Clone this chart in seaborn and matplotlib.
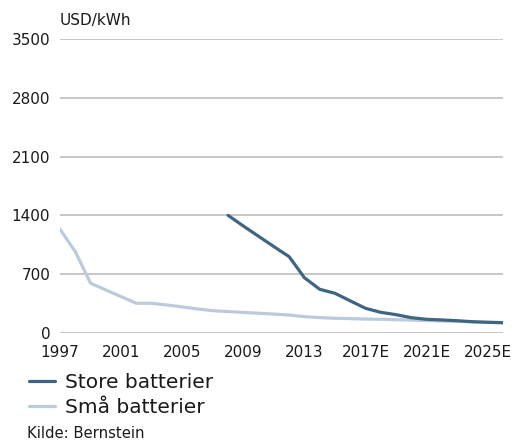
import numpy as np
import pandas as pd
import matplotlib
matplotlib.use("Agg")
import matplotlib.pyplot as plt
import seaborn as sns
from matplotlib.lines import Line2D

# Battery pack prices, USD/kWh
years = list(range(1997, 2027))
store_years = list(range(2008, 2027))
store_values = [1400, 1273, 1150, 1027, 907, 656, 518, 470, 380, 291,
                243, 215, 179, 160, 152, 143, 131, 124, 119]
small_values = [1234, 967, 590, 510, 430, 351, 351, 330, 308, 283,
                263, 252, 242, 232, 222, 211, 191, 180, 172, 168,
                163, 160, 155, 150, 145, 140, 135, 130, 125, 120]

tick_years = [1997, 2001, 2005, 2009, 2013, 2017, 2021, 2025]
tick_labels = ["1997", "2001", "2005", "2009", "2013", "2017E", "2021E", "2025E"]
y_ticks = [0, 700, 1400, 2100, 2800, 3500]

series_names = ["Store batterier", "Små batterier"]
colors = {"Store batterier": "#3e6682", "Små batterier": "#bccbdc"}

df = pd.concat([
    pd.DataFrame({"År": store_years, "Pris": store_values, "Serie": series_names[0]}),
    pd.DataFrame({"År": years, "Pris": small_values, "Serie": series_names[1]}),
], ignore_index=True)

sns.set_theme(style="white")
plt.rcParams["font.family"] = ["DejaVu Sans"]

fig = plt.figure(figsize=(5.17, 4.41), dpi=100)
ax = fig.add_axes([60 / 517, 1 - 332.7 / 441, 443 / 517, 293.4 / 441])

lw = 2.3
# light series underneath, dark series on top
sns.lineplot(data=df[df["Serie"] == series_names[1]], x="År", y="Pris",
             color=colors[series_names[1]], linewidth=lw, ax=ax, legend=False, zorder=3)
sns.lineplot(data=df[df["Serie"] == series_names[0]], x="År", y="Pris",
             color=colors[series_names[0]], linewidth=lw, ax=ax, legend=False, zorder=4)

ax.set_xlim(1997, 2026)
ax.set_ylim(0, 3500)
ax.set_yticks(y_ticks)
ax.set_yticklabels([str(v) for v in y_ticks])
ax.set_xticks(tick_years)
ax.set_xticklabels(tick_labels)
ax.set_xlabel("")
ax.set_ylabel("")
ax.grid(axis="y", color="#b8b8b8", linewidth=1.1)
ax.grid(axis="x", visible=False)
for s in ax.spines.values():
    s.set_visible(False)
ax.tick_params(axis="both", length=0, labelsize=11, colors="#1a1a1a")
ax.tick_params(axis="x", pad=9)
ax.tick_params(axis="y", pad=7)

fig.text(60 / 517, 1 - 20 / 441, "USD/kWh", fontsize=11, color="#1a1a1a",
         ha="left", va="center")

handles = [Line2D([], [], color=colors[n], linewidth=lw) for n in series_names]
fig.legend(handles, series_names, loc="upper left",
           bbox_to_anchor=(29 / 517, 1 - 373 / 441), frameon=False,
           fontsize=14.5, handlelength=1.3, handletextpad=0.5,
           labelspacing=0.28, borderaxespad=0, borderpad=0,
           labelcolor="#1a1a1a")

fig.text(27 / 517, 1 - 433 / 441, "Kilde: Bernstein", fontsize=10.7,
         color="#1a1a1a", ha="left", va="center")

fig.savefig("out.png", dpi=100)
